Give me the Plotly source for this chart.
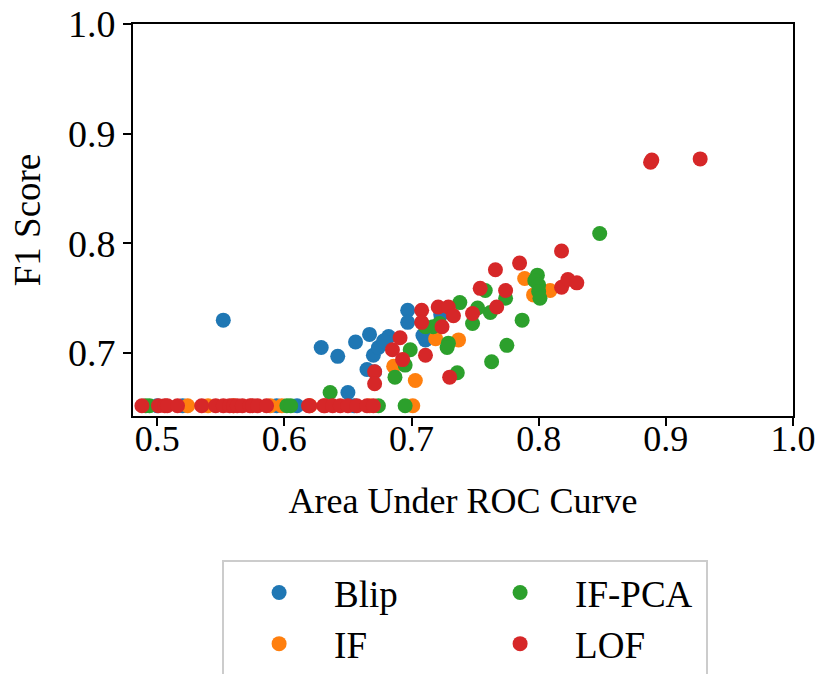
import plotly.graph_objects as go

BASE = 0.652

blip_x = [0.552, 0.629, 0.642, 0.656, 0.650, 0.667, 0.670, 0.674, 0.682, 0.665, 0.671,
          0.697, 0.697, 0.711, 0.709, 0.723, 0.678,
          0.500, 0.520, 0.594, 0.610, 0.655]
blip_y = [0.730, 0.705, 0.697, 0.710, 0.664, 0.717, 0.698, 0.705, 0.715, 0.685, 0.683,
          0.739, 0.728, 0.712, 0.716, 0.735, 0.711,
          BASE, BASE, BASE, BASE, BASE]

if_x = [0.789, 0.809, 0.796, 0.737, 0.719, 0.703, 0.686,
        0.524, 0.540, 0.560, 0.589, 0.598, 0.620, 0.667, 0.701]
if_y = [0.768, 0.757, 0.753, 0.712, 0.713, 0.675, 0.688,
        BASE, BASE, BASE, BASE, BASE, BASE, BASE, BASE]

ifpca_x = [0.848, 0.799, 0.797, 0.800, 0.800, 0.801, 0.787, 0.775, 0.763, 0.758, 0.774,
           0.762, 0.738, 0.752, 0.748, 0.736, 0.729, 0.728, 0.722, 0.717, 0.699, 0.695,
           0.687, 0.636, 0.711,
           0.491, 0.494, 0.602, 0.605, 0.674, 0.695]
ifpca_y = [0.809, 0.771, 0.766, 0.762, 0.756, 0.750, 0.730, 0.707, 0.692, 0.757, 0.750,
           0.737, 0.746, 0.741, 0.727, 0.682, 0.709, 0.705, 0.727, 0.724, 0.703, 0.689,
           0.678, 0.664, 0.724,
           BASE, BASE, BASE, BASE, BASE, BASE]

lof_x = [0.888, 0.889, 0.927, 0.818, 0.785, 0.766, 0.818, 0.823, 0.830, 0.754, 0.774,
         0.767, 0.708, 0.708, 0.721, 0.729, 0.733, 0.724, 0.748, 0.691, 0.685, 0.693,
         0.711, 0.730, 0.671, 0.671,
         0.488, 0.501, 0.506, 0.508, 0.516, 0.535, 0.546, 0.552, 0.557, 0.560, 0.563,
         0.567, 0.573, 0.575, 0.579, 0.586, 0.619, 0.620, 0.631, 0.632, 0.638, 0.644,
         0.650, 0.657, 0.665, 0.670]
lof_y = [0.874, 0.876, 0.877, 0.793, 0.782, 0.776, 0.760, 0.767, 0.764, 0.759, 0.757,
         0.742, 0.739, 0.728, 0.742, 0.742, 0.734, 0.724, 0.736, 0.714, 0.703, 0.694,
         0.698, 0.678, 0.683, 0.672] + [BASE] * 26

series = [
    ("Blip", blip_x, blip_y, "#1f77b4", 1),
    ("IF", if_x, if_y, "#ff7f0e", 3),
    ("IF-PCA", ifpca_x, ifpca_y, "#2ca02c", 2),
    ("LOF", lof_x, lof_y, "#d62728", 4),
]

FONT = "Liberation Serif, Times New Roman, serif"

fig = go.Figure()
for name, xs, ys, col, rank in series:
    fig.add_trace(go.Scatter(
        x=xs, y=ys, mode="markers", name=name, legendrank=rank,
        marker=dict(color=col, size=15, line=dict(width=0)),
    ))

axis_common = dict(
    showline=True, linecolor="black", linewidth=2, mirror=True,
    ticks="outside", ticklen=8, tickwidth=2, tickcolor="black",
    showgrid=False, zeroline=False, automargin=False,
    ticklabeloverflow="allow",
)

fig.update_layout(
    width=815, height=674,
    margin=dict(l=133, r=22, t=24, b=258),
    plot_bgcolor="white", paper_bgcolor="white",
    font=dict(family=FONT, color="black"),
    xaxis=dict(range=[0.481, 1.0], tickvals=[0.5, 0.6, 0.7, 0.8, 0.9, 1.0],
               ticktext=["0.5", "0.6", "0.7", "0.8", "0.9", "1.0"],
               ticklabelstandoff=-18,
               tickfont=dict(family=FONT, size=36, color="black"),
               title=dict(text="Area Under ROC Curve", font=dict(family=FONT, size=36), standoff=30),
               **axis_common),
    yaxis=dict(range=[0.6426, 1.0], tickvals=[0.7, 0.8, 0.9, 1.0],
               ticktext=["0.7", "0.8", "0.9", "1.0"],
               tickfont=dict(family=FONT, size=38, color="black"),
               title=dict(text="F1 Score", font=dict(family=FONT, size=37), standoff=16),
               **axis_common),
    legend=dict(
        orientation="h", xref="paper", x=0.135, xanchor="left",
        yref="container", y=1 - 560 / 674, yanchor="top",
        entrywidth=126, entrywidthmode="pixels", itemwidth=100,
        bordercolor="#cccccc", borderwidth=2, bgcolor="white",
        font=dict(family=FONT, size=37, color="black"),
    ),
)

fig.write_html("out.html")
